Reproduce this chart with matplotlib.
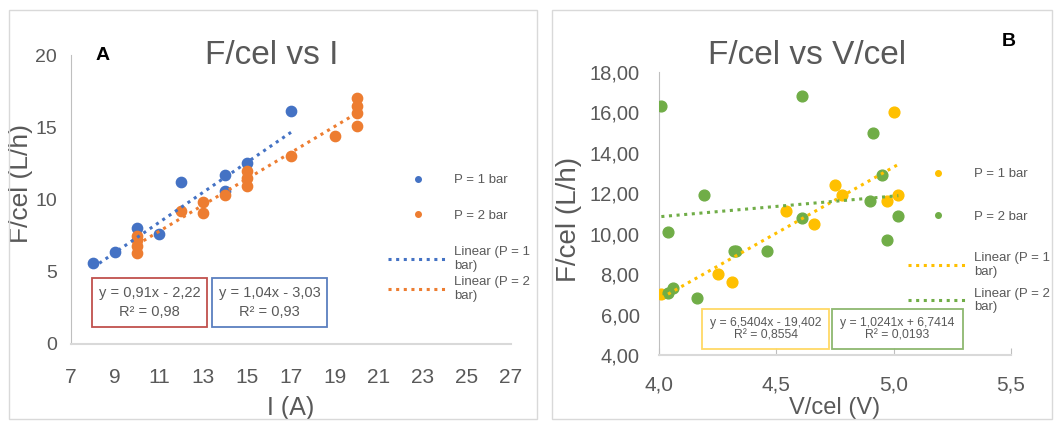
import matplotlib.pyplot as plt
from matplotlib.patches import Rectangle
from matplotlib.lines import Line2D
from matplotlib.font_manager import FontProperties
import numpy as np

plt.rcParams['font.family'] = ['Liberation Sans', 'DejaVu Sans']
GREY = '#595959'
DOTS = (0, (1, 1.5))

W, H = 1054, 423

# panel A: F/cel vs I
i_1bar = [8, 9, 10, 11, 12, 14, 14, 15, 17]
f_i_1bar = [5.6, 6.4, 8.0, 7.6, 11.2, 11.7, 10.6, 12.5, 16.1]
i_2bar = [10, 10, 10, 10, 12, 13, 13, 14, 15, 15, 15, 17, 19, 20, 20, 20, 20]
f_i_2bar = [6.3, 6.8, 7.2, 7.5, 9.2, 9.1, 9.8, 10.3, 10.9, 11.5, 12.0, 13.0, 14.4,
            15.1, 16.0, 16.5, 17.0]
fit_i_1bar = (1.04, -3.03)
fit_i_2bar = (0.91, -2.22)
eq_i_1bar = 'y = 1,04x - 3,03\nR² = 0,93'
eq_i_2bar = 'y = 0,91x - 2,22\nR² = 0,98'

# panel B: F/cel vs V/cel
v_1bar = [4.01, 4.25, 4.31, 4.54, 4.66, 4.75, 4.78, 4.97, 5.00, 5.02]
f_v_1bar = [7.0, 8.0, 7.6, 11.1, 10.5, 12.4, 11.9, 11.6, 16.0, 11.9]
v_2bar = [4.01, 4.04, 4.04, 4.06, 4.16, 4.19, 4.32, 4.33, 4.46, 4.61, 4.61, 4.90,
          4.91, 4.95, 4.97, 5.02]
f_v_2bar = [16.3, 10.1, 7.05, 7.3, 6.8, 11.9, 9.15, 9.15, 9.15, 16.8, 10.8, 11.6,
            15.0, 12.9, 9.7, 10.9]
fit_v_1bar = (6.5404, -19.402)
fit_v_2bar = (1.0241, 6.7414)
eq_v_1bar = 'y = 6,5404x - 19,402\nR² = 0,8554'
eq_v_2bar = 'y = 1,0241x + 6,7414\nR² = 0,0193'

legend_labels = ['P = 1 bar', 'P = 2 bar']
fit_labels = ['Linear (P = 1\nbar)', 'Linear (P = 2\nbar)']


def fx(px):
    return px / W


def fy(py):
    return 1 - py / H


def ax_at(x0, x1, y0, y1):
    # pixel box -> axes
    return fig.add_axes([fx(x0), fy(y1), (x1 - x0) / W, (y1 - y0) / H])


def trend(ax, xs, coef, color):
    xx = np.array([min(xs), max(xs)])
    ax.plot(xx, coef[0] * xx + coef[1], ls=DOTS, lw=2.2, color=color, zorder=4)


def eq_box(x0, x1, y0, y1, text, ec, size, ls):
    fig.patches.append(Rectangle((fx(x0), fy(y1)), (x1 - x0) / W, (y1 - y0) / H,
                                 transform=fig.transFigure, fill=False, ec=ec, lw=1.3))
    fig.text(fx((x0 + x1) / 2), fy((y0 + y1) / 2), text, ha='center', va='center',
             color=GREY, size=size, linespacing=ls)


def legends(ax, c1, c2, x0, y_mark, y_line, sp1, sp2):
    prop = FontProperties(size=9.5)
    mk = [Line2D([], [], ls='none', marker='o', ms=4, color=c) for c in (c1, c2)]
    ln = [Line2D([], [], ls=DOTS, lw=2.2, color=c) for c in (c1, c2)]
    l1 = ax.legend(mk, legend_labels, loc='upper left', bbox_to_anchor=(fx(x0), fy(y_mark)),
                   bbox_transform=fig.transFigure, frameon=False, handlelength=4.6,
                   handletextpad=0.4, labelspacing=sp1, borderpad=0, borderaxespad=0,
                   prop=prop, labelcolor=GREY)
    ax.add_artist(l1)
    ax.legend(ln, fit_labels, loc='upper left', bbox_to_anchor=(fx(x0), fy(y_line)),
              bbox_transform=fig.transFigure, frameon=False, handlelength=4.6,
              handletextpad=0.4, labelspacing=sp2, borderpad=0, borderaxespad=0,
              prop=prop, labelcolor=GREY)


fig = plt.figure(figsize=(W / 100, H / 100), dpi=100)

# panel frames
for x0, x1 in [(9, 537), (552, 1052)]:
    fig.patches.append(Rectangle((fx(x0), fy(419)), (x1 - x0) / W, (419 - 10) / H,
                                 transform=fig.transFigure, fill=False, ec='#d9d9d9', lw=1))

# ---- panel A ----
axA = ax_at(71, 511, 55, 344)
axA.scatter(i_1bar, f_i_1bar, s=55, color='#4472C4', zorder=3)
axA.scatter(i_2bar, f_i_2bar, s=55, color='#ED7D31', zorder=3)
trend(axA, i_1bar, fit_i_1bar, '#4472C4')
trend(axA, i_2bar, fit_i_2bar, '#ED7D31')
axA.set_xlim(7, 27)
axA.set_ylim(0, 20)
axA.set_xticks(range(7, 28, 2))
axA.set_yticks(range(0, 21, 5))
axA.tick_params(axis='x', length=0, pad=17, labelsize=15, labelcolor=GREY)
axA.tick_params(axis='y', length=0, pad=10, labelsize=14, labelcolor=GREY)
axA.set_xlabel('I (A)', fontsize=18, color=GREY)
axA.xaxis.set_label_coords(0.5, -0.18)
axA.set_ylabel('F/cel (L/h)', fontsize=19, color=GREY)
axA.yaxis.set_label_coords(-0.086, 0.557)
for s in ['top', 'right']:
    axA.spines[s].set_visible(False)
axA.spines['left'].set_color('#bfbfbf')
axA.spines['bottom'].set_color('#d9d9d9')
axA.spines['bottom'].set_linewidth(1.5)
axA.patch.set_alpha(0)
legends(axA, '#4472C4', '#ED7D31', 388, 174, 246, 1.75, 0.35)
eq_box(92, 207, 278, 327, eq_i_2bar, '#C0504D', 10.5, 1.45)
eq_box(212, 327, 278, 327, eq_i_1bar, '#5B7FBF', 10.5, 1.45)
fig.text(fx(272), fy(55), 'F/cel vs I', ha='center', va='center', fontsize=24, color=GREY)
fig.text(fx(103), fy(55), 'A', ha='center', va='center', fontsize=14, weight='bold')

# ---- panel B ----
axB = ax_at(659, 1011, 72, 355)
axB.scatter(v_1bar, f_v_1bar, s=60, color='#FFC000', zorder=3)
axB.scatter(v_2bar, f_v_2bar, s=60, color='#70AD47', zorder=3)
trend(axB, v_1bar, fit_v_1bar, '#FFC000')
trend(axB, v_2bar, fit_v_2bar, '#70AD47')
axB.set_xlim(4.0, 5.5)
axB.set_ylim(4, 18)
axB.set_xticks([4.0, 4.5, 5.0, 5.5])
axB.set_xticklabels(['4,0', '4,5', '5,0', '5,5'])
axB.set_yticks(range(4, 19, 2))
axB.set_yticklabels(['%d,00' % v for v in range(4, 19, 2)])
axB.tick_params(axis='x', direction='in', length=5, color='#bfbfbf', pad=15,
                labelsize=15, labelcolor=GREY)
axB.tick_params(axis='y', length=0, pad=14, labelsize=14.5, labelcolor=GREY)
axB.set_xlabel('V/cel (V)', fontsize=17, color=GREY)
axB.xaxis.set_label_coords(0.5, -0.15)
axB.set_ylabel('F/cel (L/h)', fontsize=20, color=GREY)
axB.yaxis.set_label_coords(-0.22, 0.48)
for s in ['top', 'right']:
    axB.spines[s].set_visible(False)
axB.spines['left'].set_color('#bfbfbf')
axB.spines['bottom'].set_color('#d9d9d9')
axB.spines['bottom'].set_linewidth(1.5)
axB.patch.set_alpha(0)
legends(axB, '#FFC000', '#70AD47', 908, 168, 252, 2.3, 0.75)
eq_box(702, 829, 309, 349, eq_v_1bar, '#FFD966', 8.8, 1.0)
eq_box(832, 963, 309, 349, eq_v_2bar, '#8DB870', 8.8, 1.0)
fig.text(fx(807), fy(56), 'F/cel vs V/cel', ha='center', va='center', fontsize=24, color=GREY)
fig.text(fx(1009), fy(41), 'B', ha='center', va='center', fontsize=14, weight='bold')

fig.savefig('out.png', dpi=100)
